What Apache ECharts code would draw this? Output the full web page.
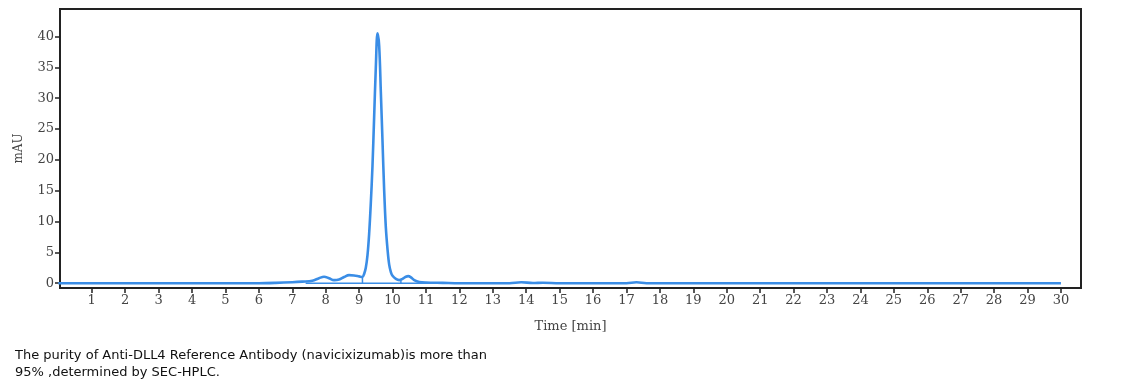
<!DOCTYPE html>
<html>
<head>
<meta charset="utf-8">
<script src="https://cdn.jsdelivr.net/npm/echarts@6/dist/echarts.min.js"></script>
<style>
html,body{margin:0;padding:0;background:#fff;}
#chart{width:1130px;height:391px;}
</style>
</head>
<body>
<div id="chart"></div>
<script>
// Chromatogram trace (time in min, absorbance in mAU)
const times = [0, 3, 6, 6.5, 7, 7.3, 7.6, 7.8, 7.95, 8.1, 8.25, 8.4, 8.55, 8.7, 8.85, 9.0, 9.1,
  9.15, 9.2, 9.25, 9.3, 9.35, 9.4, 9.45, 9.5, 9.55, 9.6, 9.65, 9.7, 9.75, 9.8, 9.85, 9.9, 9.95,
  10.0, 10.1, 10.2, 10.3, 10.4, 10.47, 10.55, 10.65, 10.8, 11.0, 11.5, 12, 13.5, 13.85, 14.2, 14.5,
  15, 17, 17.3, 17.6, 20, 25, 30];
const values = [0, 0, 0, 0.05, 0.15, 0.25, 0.4, 0.8, 1.05, 0.8, 0.5, 0.6, 1.0, 1.3, 1.25, 1.1, 1.0,
  1.5, 2.5, 4.5, 8, 13, 19, 27, 35, 40.5, 38.5, 31, 23, 15, 9, 5.5, 3, 1.8,
  1.2, 0.7, 0.5, 0.7, 1.05, 1.15, 0.95, 0.5, 0.2, 0.1, 0.05, 0, 0, 0.15, 0.02, 0.08,
  0, 0, 0.15, 0, 0, 0, 0];
// Integration baseline and peak drop lines
const baselineTimes = [7.4, 11.2];
const baselineValues = [0, 0];
const dropTimes = [9.1, 10.25];
const dropValues = [1.0, 0.6];
// Tick labels
const xTicks = [1,2,3,4,5,6,7,8,9,10,11,12,13,14,15,16,17,18,19,20,21,22,23,24,25,26,27,28,29,30];
const yTicks = [0,5,10,15,20,25,30,35,40];
const caption = ['The purity of Anti-DLL4 Reference Antibody (navicixizumab)is more than',
  '95% ,determined by SEC-HPLC.'];

const traceData = times.map((t, i) => [t, values[i]]);
const baseData = baselineTimes.map((t, i) => [t, baselineValues[i]]);
const dropData = [];
dropTimes.forEach((t, i) => { dropData.push([t, 0], [t, dropValues[i]], [t, '-']); });

const lineColor = '#3a8de6';
const axisFont = {fontFamily: 'DejaVu Serif', fontSize: 13, color: '#444'};

const chart = echarts.init(document.getElementById('chart'));
chart.setOption({
  animation: false,
  grid: {left: 60, right: 49, top: 9, bottom: 103, show: true, borderColor: '#222', borderWidth: 2, backgroundColor: 'transparent'},
  xAxis: {
    type: 'value', min: 0.05, max: 30.6,
    name: 'Time [min]', nameLocation: 'middle', nameGap: 32,
    nameTextStyle: axisFont,
    axisLine: {show: true, onZero: false, lineStyle: {color: '#222', width: 2}},
    axisTick: {show: true, customValues: xTicks, length: 5, lineStyle: {color: '#222', width: 1.5}},
    axisLabel: {customValues: xTicks, margin: 6, ...axisFont},
    splitLine: {show: false}
  },
  yAxis: {
    type: 'value', min: -0.78, max: 44.45,
    name: 'mAU', nameLocation: 'middle', nameGap: 35, nameRotate: 90,
    nameTextStyle: {...axisFont, fontSize: 12},
    axisLine: {show: true, onZero: false, lineStyle: {color: '#222', width: 2}},
    axisTick: {show: true, customValues: yTicks, length: 5, lineStyle: {color: '#222', width: 1.5}},
    axisLabel: {customValues: yTicks, margin: 6, ...axisFont},
    splitLine: {show: false}
  },
  series: [
    {type: 'line', data: baseData, showSymbol: false, lineStyle: {color: lineColor, width: 1.5}, silent: true},
    {type: 'line', data: dropData, showSymbol: false, connectNulls: false, lineStyle: {color: lineColor, width: 1.5}, silent: true},
    {type: 'line', data: traceData, showSymbol: false, smooth: 0.35, lineStyle: {color: lineColor, width: 2.6}, silent: true}
  ],
  graphic: caption.map((s, i) => ({
    type: 'text', left: 15, top: 349 + i * 17,
    style: {text: s, font: '13px "DejaVu Sans"', fill: '#111'}
  }))
});
</script>
</body>
</html>
